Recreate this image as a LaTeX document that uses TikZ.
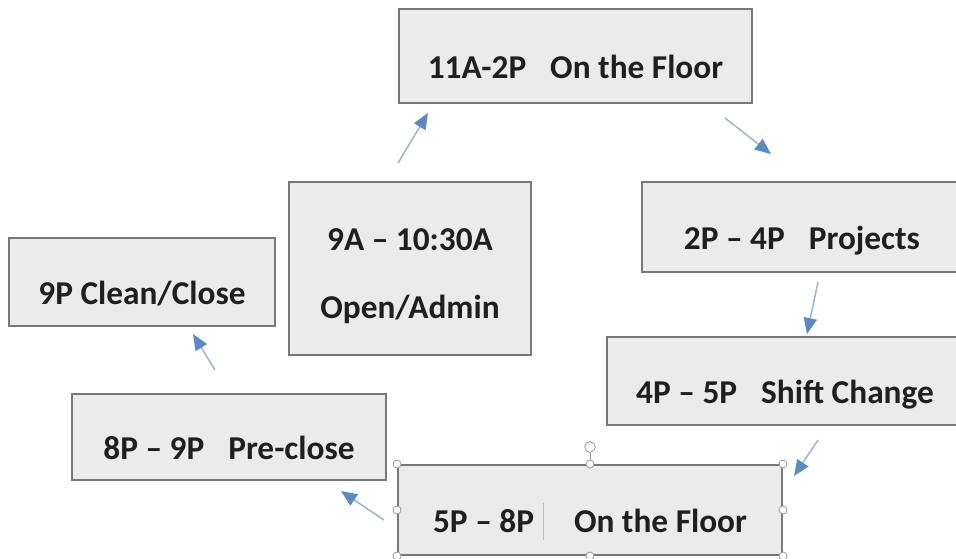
\documentclass[tikz,border=0pt]{standalone}
\usepackage{fontspec}
\setmainfont{Carlito}
\usetikzlibrary{arrows.meta}
\definecolor{tipblue}{HTML}{5B8AC4}
\definecolor{shaftblue}{HTML}{9DB2C9}
\newcommand{\gap}{\hspace{0.72em}}

\begin{document}
\begin{tikzpicture}[x=0.75pt, y=-0.75pt, font=\fontsize{25}{30}\selectfont\bfseries]
			\tikzset{
				slot/.style={rectangle, draw=black!53, line width=1.5pt, fill=black!8, text=black!88, text height=33pt, text depth=0pt},
				twoline/.style={slot, align=center, text height=76pt, text depth=0.6pt},
				flow/.style={line width=1.1pt, draw=shaftblue, -{Triangle[length=12pt, width=10pt, color=tipblue]}},
				grip/.style={circle, draw=black!40, fill=white, line width=0.6pt, inner sep=0pt, minimum size=6pt},
			}
			\clip (0,0) rectangle (956,558);
			\node[slot, minimum width=264.75pt, minimum height=70.5pt](floorA) at (575.5,56) {11A-2P\gap On the Floor};
			\node[twoline, minimum width=181.5pt, minimum height=129.75pt](openAdmin) at (410,268.5) {9A -- 10:30A\\[21pt]Open/Admin};
			\node[slot, minimum width=199.5pt, minimum height=66pt](cleanClose) at (142,282) {9P Clean/Close};
			\node[slot, minimum width=240pt, minimum height=67.5pt](projects) at (802,227) {2P -- 4P\gap Projects};
			\node[slot, minimum width=267pt, minimum height=66pt](shiftChange) at (785,381) {4P -- 5P\gap Shift Change};
			\node[slot, minimum width=235.5pt, minimum height=64.5pt](preClose) at (229,437) {8P -- 9P\gap Pre-close};
			\node[slot, minimum width=288pt, minimum height=67.5pt](floorB) at (590,510) {5P -- 8P\hspace{1.2em}On the Floor};
			%selection handles
			\coordinate (rotGrip) at (590,447);
			\draw[black!40, line width=0.6pt] (floorB.north) -- (rotGrip);
			\node[grip, minimum size=8pt] at (rotGrip) {};
			\foreach \a in {north west,north,north east,east,south east,south,south west,west}
				\node[grip] at (floorB.\a) {};
			\draw[black!25, line width=0.6pt] (543,503) -- (543,540);
			%arrow ends
			\coordinate (a1s) at (398,163); \coordinate (a1e) at (428,113);
			\coordinate (a2s) at (725,118); \coordinate (a2e) at (771,154);
			\coordinate (a3s) at (818,282); \coordinate (a3e) at (807,334);
			\coordinate (a4s) at (818,440); \coordinate (a4e) at (794,476);
			\coordinate (a5s) at (384,520); \coordinate (a5e) at (341,491);
			\coordinate (a6s) at (215,370); \coordinate (a6e) at (193,334);
			%Draw arrows
			\draw[flow] (a1s) -- (a1e);
			\draw[flow] (a2s) -- (a2e);
			\draw[flow] (a3s) -- (a3e);
			\draw[flow] (a4s) -- (a4e);
			\draw[flow] (a5s) -- (a5e);
			\draw[flow] (a6s) -- (a6e);
		\end{tikzpicture}
\end{document}
